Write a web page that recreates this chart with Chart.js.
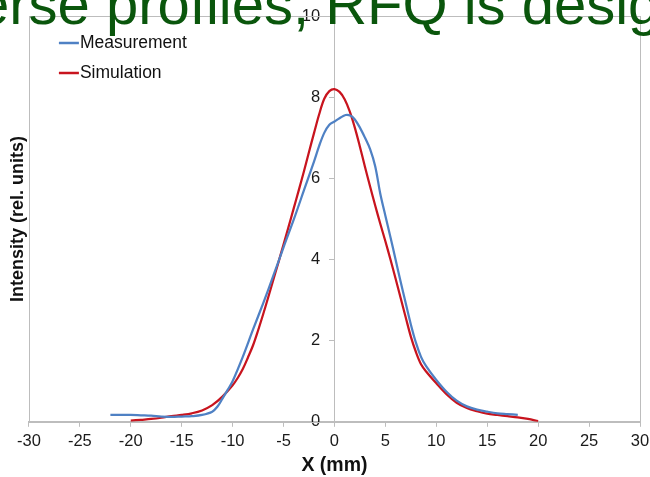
<!DOCTYPE html>
<html>
<head>
<meta charset="utf-8">
<title>Intensity profile</title>
<script src="https://cdn.jsdelivr.net/npm/chart.js@4.4.1/dist/chart.umd.min.js"></script>
<style>
  html, body { margin: 0; padding: 0; background: #fff; overflow: hidden; }
  #wrap { position: relative; width: 650px; height: 477px; overflow: hidden; }
  #c { position: absolute; left: 0; top: 0; }
  #heading {
    position: absolute; left: -23px; top: -25px; z-index: 2;
    font: 58px/58px "Liberation Sans", Arial, sans-serif;
    color: #0a560c; white-space: nowrap; pointer-events: none;
  }
</style>
</head>
<body>
<div id="wrap">
  <canvas id="c" width="650" height="477"></canvas>
  <div id="heading">erse profiles, RFQ is design</div>
</div>
<script>
// Beam profile: measured vs simulated intensity across X
const measX = [-22, -21, -20, -19, -18, -17, -16, -15, -14, -13, -12, -11.5, -11, -10.5, -10, -9, -8, -7, -6, -5, -4, -3, -2, -1.5, -1, -0.5, 0, 0.5, 1.1, 1.6, 2, 2.5, 3, 3.5, 4, 4.5, 5, 5.5, 6, 6.5, 7, 7.5, 8, 8.5, 9, 10, 11, 12, 13, 14, 15, 16, 17, 18];
const measY = [0.17, 0.17, 0.17, 0.16, 0.15, 0.13, 0.12, 0.13, 0.14, 0.17, 0.25, 0.37, 0.57, 0.78, 1.0, 1.6, 2.27, 2.92, 3.6, 4.3, 4.98, 5.7, 6.42, 6.8, 7.12, 7.32, 7.4, 7.48, 7.56, 7.54, 7.45, 7.25, 7.0, 6.72, 6.3, 5.62, 5.08, 4.55, 4.0, 3.45, 2.92, 2.4, 1.95, 1.6, 1.37, 1.03, 0.74, 0.52, 0.38, 0.3, 0.25, 0.21, 0.19, 0.17];

const simX = [-20, -19, -18, -17, -16, -15, -14, -13, -12, -11, -10, -9.5, -9, -8.5, -8, -7.5, -7, -6.5, -6, -5.5, -5, -4.5, -4, -3.5, -3, -2.5, -2, -1.5, -1, -0.5, 0, 0.5, 1, 1.5, 2, 2.5, 3, 3.5, 4, 4.5, 5, 5.5, 6, 6.5, 7, 7.5, 8, 8.5, 9, 10, 11, 12, 13, 14, 15, 16, 17, 18, 19, 20];
const simY = [0.03, 0.05, 0.07, 0.1, 0.14, 0.17, 0.21, 0.28, 0.41, 0.62, 0.9, 1.08, 1.3, 1.58, 1.88, 2.25, 2.65, 3.07, 3.5, 3.93, 4.37, 4.81, 5.26, 5.71, 6.17, 6.65, 7.12, 7.58, 7.96, 8.15, 8.2, 8.13, 7.95, 7.65, 7.25, 6.78, 6.28, 5.8, 5.33, 4.88, 4.45, 4.0, 3.53, 3.05, 2.57, 2.1, 1.72, 1.42, 1.24, 0.95, 0.68, 0.47, 0.34, 0.26, 0.2, 0.17, 0.14, 0.11, 0.07, 0.02];

const seriesNames = ['Measurement', 'Simulation'];
const xRange = [-30, 30, 5];   // min, max, step
const yRange = [0, 10, 2];

const pairs = (xs, ys) => xs.map((x, i) => ({ x, y: ys[i] }));

Chart.defaults.font.family = '"Liberation Sans", Arial, sans-serif';
Chart.defaults.color = '#1a1a1a';

const GRAY = '#bdbdbd';

// Gray frame around the plotting area
const plotFrame = {
  id: 'plotFrame',
  beforeDatasetsDraw(chart) {
    const a = chart.chartArea, ctx = chart.ctx;
    ctx.save();
    ctx.strokeStyle = GRAY;
    ctx.lineWidth = 1;
    ctx.strokeRect(Math.round(a.left) + 0.5, Math.round(a.top) + 0.5,
                   Math.round(a.right - a.left), Math.round(a.bottom - a.top));
    ctx.restore();
  }
};

// Stacked legend drawn in the upper-left corner of the plot
const cornerLegend = {
  id: 'cornerLegend',
  afterDatasetsDraw(chart, args, opts) {
    const a = chart.chartArea, ctx = chart.ctx;
    ctx.save();
    ctx.font = opts.size + 'px "Liberation Sans", Arial, sans-serif';
    ctx.textBaseline = 'middle';
    ctx.textAlign = 'left';
    chart.data.datasets.forEach((ds, i) => {
      const y = a.top + opts.top + i * opts.gap;
      const x0 = a.left + opts.left;
      ctx.strokeStyle = ds.borderColor;
      ctx.lineWidth = 2.5;
      ctx.beginPath();
      ctx.moveTo(x0, y);
      ctx.lineTo(x0 + opts.sample, y);
      ctx.stroke();
      ctx.fillStyle = '#111';
      ctx.fillText(ds.label, x0 + opts.sample + 1, y);
    });
    ctx.restore();
  }
};

const lineStyle = { borderWidth: 2.25, pointRadius: 0, tension: 0.35, fill: false };

new Chart(document.getElementById('c'), {
  type: 'line',
  data: {
    datasets: [
      Object.assign({ label: seriesNames[0], data: pairs(measX, measY), borderColor: '#4f81c4' }, lineStyle),
      Object.assign({ label: seriesNames[1], data: pairs(simX, simY), borderColor: '#c8141e' }, lineStyle)
    ]
  },
  plugins: [plotFrame, cornerLegend],
  options: {
    responsive: false,
    animation: false,
    devicePixelRatio: 1,
    layout: { padding: { top: 16, left: 7.3, right: 0, bottom: 0 } },
    plugins: {
      legend: { display: false },
      tooltip: { enabled: false },
      cornerLegend: { top: 27, left: 30, gap: 30, sample: 20, size: 17.5 }
    },
    scales: {
      x: {
        type: 'linear',
        min: xRange[0], max: xRange[1],
        ticks: { stepSize: xRange[2], font: { size: 16.5 }, padding: 5 },
        grid: { drawOnChartArea: false, tickLength: 5, color: GRAY },
        border: { color: GRAY },
        title: { display: true, text: 'X (mm)', font: { size: 19.5, weight: 'bold' }, color: '#111', padding: { top: -3, bottom: 0 } },
        afterFit(scale) { scale.paddingRight = 10; }
      },
      // axis line and tick marks through X = 0
      y: {
        type: 'linear',
        min: yRange[0], max: yRange[1],
        position: { x: 0 },
        ticks: { stepSize: yRange[2], display: false },
        grid: { drawOnChartArea: false, tickLength: 5, color: GRAY },
        border: { color: GRAY }
      },
      // tick labels set just left of the X = 0 axis
      yLabels: {
        type: 'linear',
        min: yRange[0], max: yRange[1],
        position: { x: -1.4 },
        ticks: { stepSize: yRange[2], font: { size: 16.5 } },
        grid: { display: false },
        border: { display: false }
      },
      yTitle: {
        type: 'linear',
        position: 'left',
        min: yRange[0], max: yRange[1],
        ticks: { display: false },
        grid: { display: false, drawTicks: false },
        border: { display: false },
        title: { display: true, text: 'Intensity (rel. units)', font: { size: 18, weight: 'bold' }, color: '#111', padding: { top: 0, bottom: 0 } }
      }
    }
  }
});
</script>
</body>
</html>
